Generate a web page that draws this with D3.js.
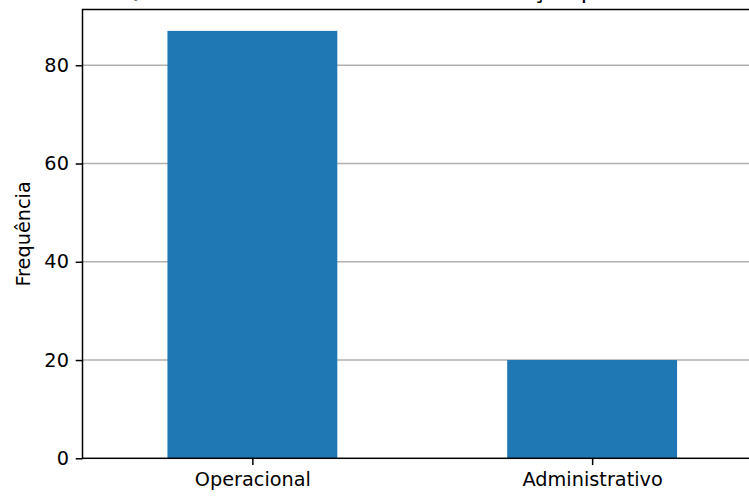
<!DOCTYPE html>
<html>
<head>
<meta charset="utf-8">
<script src="https://cdn.jsdelivr.net/npm/d3@7"></script>
<style>
  body { margin: 0; background: #fff; }
  svg text { font-family: "DejaVu Sans", sans-serif; fill: #000; }
</style>
</head>
<body>
<svg id="svg1"></svg>
<script>
var categories = ["Operacional", "Administrativo"];
var counts = [87, 20];
var yTicks = [0, 20, 40, 60, 80];
var titleText = "Quantidade de Funcionários na Função por Unidade";
var yLabel = "Frequência";

var width = 749;
var height = 496;
var margin = {top: 9.5, left: 82.5, bottom: 458.3};
var plotRight = 762;
var fontSize = 19.3;
var tickLen = 6.8;
var lineW = 1.5;

var svg1 = d3.select("#svg1")
  .attr("width", width)
  .attr("height", height);

var x = d3.scaleLinear()
  .domain([-0.5, categories.length - 0.5])
  .range([margin.left, plotRight]);

var y = d3.scaleLinear()
  .domain([0, d3.max(counts) * 1.05])
  .range([margin.bottom, margin.top]);

var g = svg1.append("g");

// grid behind bars
g.selectAll(".grid")
  .data(yTicks.filter(d => d > 0))
  .enter()
  .append("line")
  .attr("x1", margin.left)
  .attr("x2", plotRight)
  .attr("y1", d => y(d))
  .attr("y2", d => y(d))
  .attr("stroke", "#b0b0b0")
  .attr("stroke-width", lineW);

var barW = x(0.25) - x(-0.25);
g.selectAll("rect")
  .data(counts)
  .enter()
  .append("rect")
  .attr("x", (d, i) => x(i) - barW / 2)
  .attr("y", d => y(d))
  .attr("width", barW)
  .attr("height", d => y(0) - y(d))
  .attr("fill", "#1f77b4");

// y axis
var yAxis = d3.axisLeft(y).tickValues(yTicks).tickSize(tickLen).tickPadding(tickLen);
var ya = g.append("g")
  .attr("transform", `translate(${margin.left},0)`)
  .call(yAxis);
ya.select(".domain").remove();
ya.selectAll(".tick line").attr("stroke", "#000").attr("stroke-width", lineW);
ya.selectAll(".tick text").style("font-size", fontSize + "px").style("font-family", "DejaVu Sans").attr("fill", "#000");

// x axis
var xAxis = d3.axisBottom(x)
  .tickValues(d3.range(categories.length))
  .tickFormat(i => categories[i])
  .tickSize(tickLen).tickPadding(tickLen);
var xa = g.append("g")
  .attr("transform", `translate(0,${margin.bottom})`)
  .call(xAxis);
xa.select(".domain").remove();
xa.selectAll(".tick line").attr("stroke", "#000").attr("stroke-width", lineW);
xa.selectAll(".tick text").style("font-size", fontSize + "px").style("font-family", "DejaVu Sans").attr("fill", "#000");

// spines
g.append("rect")
  .attr("x", margin.left)
  .attr("y", margin.top)
  .attr("width", plotRight - margin.left)
  .attr("height", margin.bottom - margin.top)
  .attr("fill", "none")
  .attr("stroke", "#000")
  .attr("stroke-width", lineW);

// y label
svg1.append("text")
  .attr("transform", `translate(30,${(margin.top + margin.bottom) / 2}) rotate(-90)`)
  .attr("text-anchor", "middle")
  .style("font-size", fontSize + "px")
  .text(yLabel);

// title (cut off at top in the original too)
svg1.append("text")
  .attr("x", (margin.left + plotRight) / 2)
  .attr("y", margin.top - 11.6)
  .attr("text-anchor", "middle")
  .style("font-size", "23.2px")
  .text(titleText);
</script>
</body>
</html>
